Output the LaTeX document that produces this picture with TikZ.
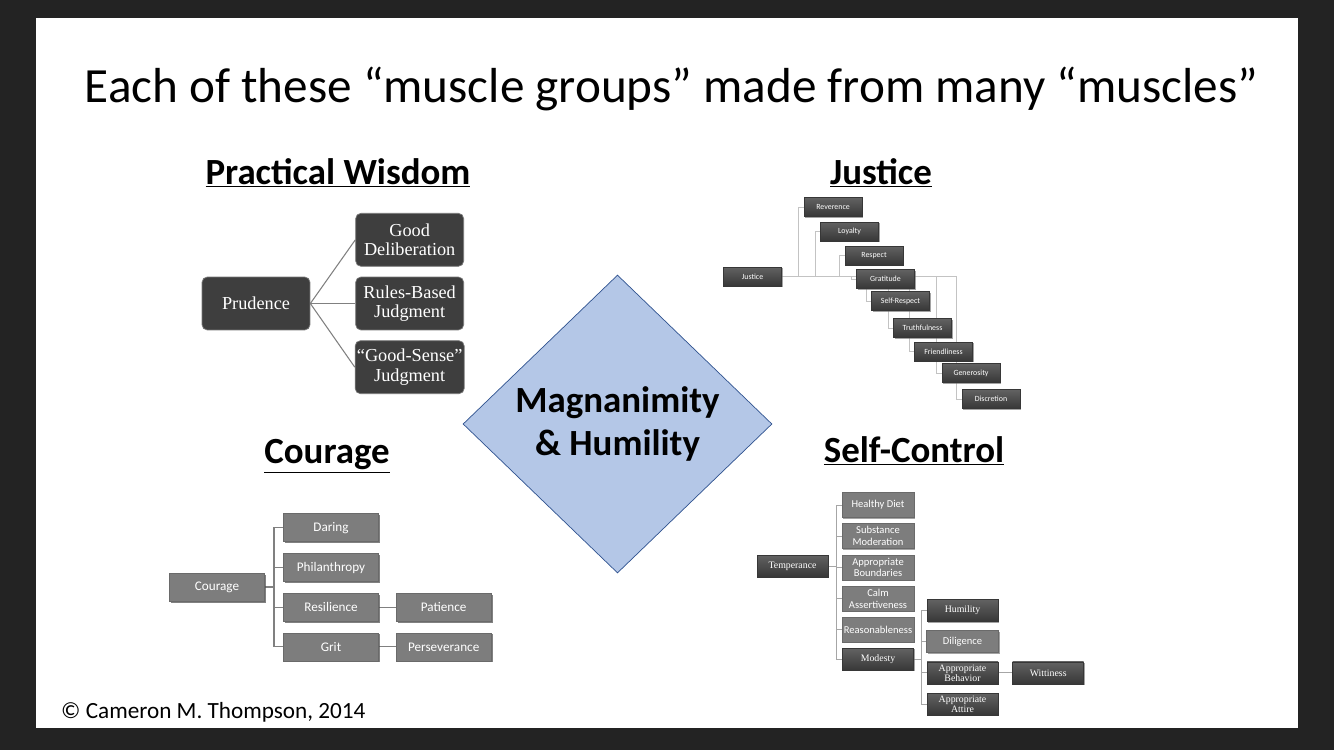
\documentclass[tikz,border=0pt]{standalone}
\usepackage{fontspec}
\usepackage{tikz}
\usetikzlibrary{shapes.geometric, positioning, backgrounds, shadows}
\setmainfont{Carlito}
\newfontfamily\gramfont{Liberation Serif}
\definecolor{SlideDark}{RGB}{35,35,35}
\definecolor{BoxDark}{RGB}{62,62,62}
\definecolor{BoxMid}{RGB}{125,125,125}
\definecolor{BoxTop}{RGB}{98,98,98}
\definecolor{BoxBottom}{RGB}{55,55,55}
\definecolor{LinkGray}{RGB}{128,128,128}
\definecolor{LinkLight}{RGB}{195,195,195}
\definecolor{DiamondBlue}{RGB}{180,199,231}
\definecolor{DiamondEdge}{RGB}{47,82,143}

\begin{document}
\begin{tikzpicture}[
    x=0.02cm, y=-0.02cm,
    heading/.style={font=\fontsize{21}{25}\selectfont\bfseries},
    wisebox/.style={rectangle, rounded corners=3pt, draw=BoxDark!70!white, fill=BoxDark, text=white,
                    minimum width=2.16cm, minimum height=1.06cm, align=center, inner sep=1pt,
                    font=\gramfont\fontsize{10.4}{11}\selectfont},
    jbox/.style={rectangle, top color=BoxTop, bottom color=BoxBottom, draw=BoxBottom, text=white,
                 minimum width=1.16cm, minimum height=0.38cm, inner sep=0pt, font=\fontsize{4.5}{5}\selectfont,
                 drop shadow={shadow xshift=0.02cm, shadow yshift=-0.02cm, fill=black!60, opacity=0.6}},
    cbox/.style={rectangle, fill=BoxMid, draw=BoxMid!85!black, text=white,
                 minimum width=1.9cm, minimum height=0.56cm, inner sep=1pt, font=\fontsize{7.5}{8}\selectfont,
                 drop shadow={shadow xshift=0.03cm, shadow yshift=-0.03cm, fill=black!70, opacity=0.7}},
    sbox/.style={rectangle, fill=BoxMid, draw=BoxMid!85!black, text=white, align=center,
                 minimum width=1.44cm, minimum height=0.5cm, inner sep=0.5pt, font=\fontsize{6}{6.8}\selectfont,
                 drop shadow={shadow xshift=0.02cm, shadow yshift=-0.02cm, fill=black!60, opacity=0.6}},
    sserif/.style={rectangle, top color=BoxTop, bottom color=BoxBottom, draw=BoxBottom, text=white, align=center,
                   minimum width=1.42cm, minimum height=0.44cm, inner sep=0.5pt, font=\gramfont\fontsize{5.6}{5.8}\selectfont,
                   drop shadow={shadow xshift=0.02cm, shadow yshift=-0.02cm, fill=black!60, opacity=0.6}},
    plink/.style={draw=LinkGray, line width=0.6pt},
    jlink/.style={draw=LinkLight, line width=0.4pt},
    slink/.style={draw=LinkGray!70!white, line width=0.5pt},
    clink/.style={draw=LinkGray, line width=0.6pt}
]
\useasboundingbox (0,0) rectangle (1334,750);

% Slide
\begin{scope}[on background layer]
\fill[SlideDark] (0,0) rectangle (1334,750);
\fill[white] (36,18) rectangle (1298,728);
\end{scope}

\node[font=\fontsize{28}{32}\selectfont] (title) at (671.5,89) {Each of these “muscle groups” made from many “muscles”};

% Practical wisdom
\node[heading] (wisdomhead) at (338,173) {\underline{Practical Wisdom}};
\node[wisebox] (prudence) at (256,303.5) {Prudence};
\node[wisebox, right=0.9cm of prudence] (rules) {Rules-Based\\Judgment};
\node[wisebox, above=0.2cm of rules] (deliberation) {Good\\Deliberation};
\node[wisebox, below=0.2cm of rules] (goodsense) {“Good-Sense”\\Judgment};

% Justice
\node[heading] (justicehead) at (881,173) {\underline{Justice}};
\node[jbox] (justice) at (752.5,276.5) {Justice};
\node[jbox] (reverence) at (833,207) {Reverence};
\node[jbox] (loyalty) at (849.5,231.5) {Loyalty};
\node[jbox] (respect) at (874,255.5) {Respect};
\node[jbox] (gratitude) at (885.5,279) {Gratitude};
\node[jbox] (selfrespect) at (900.5,301) {Self-Respect};
\node[jbox] (truthfulness) at (922.5,328) {Truthfulness};
\node[jbox] (friendliness) at (943.5,351.5) {Friendliness};
\node[jbox] (generosity) at (971,373) {Generosity};
\node[jbox] (discretion) at (991,399) {Discretion};

% Centre
\node[diamond, draw=DiamondEdge, fill=DiamondBlue, minimum width=6.18cm, minimum height=5.96cm,
      inner sep=0pt, align=center, font=\fontsize{21}{24}\selectfont\bfseries] (magnanimity) at (617.5,424)
      {Magnanimity\\\& Humility};

% Courage
\node[heading] (couragehead) at (327,456) {\underline{Courage}};
\node[cbox] (courage) at (217,587) {Courage};
\node[cbox] (philanthropy) at (331,567.5) {Philanthropy};
\node[cbox, above=0.22cm of philanthropy] (daring) {Daring};
\node[cbox, below=0.22cm of philanthropy] (resilience) {Resilience};
\node[cbox, below=0.22cm of resilience] (grit) {Grit};
\node[cbox, right=0.34cm of resilience] (patience) {Patience};
\node[cbox, right=0.34cm of grit] (perseverance) {Perseverance};
\coordinate (cspine) at (274,587);

% Self-control
\node[heading] (controlhead) at (914,451) {\underline{Self-Control}};
\node[sserif] (temperance) at (792.5,566) {Temperance};
\node[sbox] (healthy) at (878,505) {Healthy Diet};
\node[sbox, below=0.11cm of healthy] (substance) {Substance\\Moderation};
\node[sbox, below=0.11cm of substance] (boundaries) {Appropriate\\Boundaries};
\node[sbox, below=0.11cm of boundaries] (calm) {Calm\\Assertiveness};
\node[sbox, below=0.11cm of calm] (reasonable) {Reasonableness};
\node[sserif, below=0.11cm of reasonable] (modesty) {Modesty};
\node[sserif] (humility) at (962.5,610.5) {Humility};
\node[sbox, minimum height=0.44cm, below=0.17cm of humility] (diligence) {Diligence};
\node[sserif, below=0.17cm of diligence] (behavior) {Appropriate\\Behavior};
\node[sserif, below=0.17cm of behavior] (attire) {Appropriate\\Attire};
\node[sserif, right=0.28cm of behavior] (witness) {Wittiness};
\coordinate (sspine) at (836,566);
\coordinate (mspine) at (921,656);

\node[anchor=west, font=\fontsize{13.2}{16}\selectfont] (credit) at (55,712) {© Cameron M. Thompson, 2014};

% Connectors
\begin{scope}[on background layer]
\foreach \c in {deliberation, rules, goodsense}
    \draw[plink] (prudence.east) -- (\c.west);
\foreach \c in {reverence, loyalty, respect, gratitude, selfrespect, truthfulness, friendliness, generosity, discretion}
    \draw[jlink] (justice.east) -| ([xshift=-0.1cm]\c.west) -- (\c.west);
\foreach \c in {daring, philanthropy, resilience, grit}
    \draw[clink] (courage.east) -- (cspine |- courage.east) |- (\c.west);
\draw[clink] (resilience) -- (patience);
\draw[clink] (grit) -- (perseverance);
\foreach \c in {healthy, substance, boundaries, calm, reasonable, modesty}
    \draw[slink] (temperance.east) -- (sspine |- temperance.east) |- (\c.west);
\foreach \c in {humility, diligence, behavior, attire}
    \draw[slink] (modesty.east) -- (mspine |- modesty.east) |- (\c.west);
\draw[slink] (behavior) -- (witness);
\end{scope}

\end{tikzpicture}
\end{document}
